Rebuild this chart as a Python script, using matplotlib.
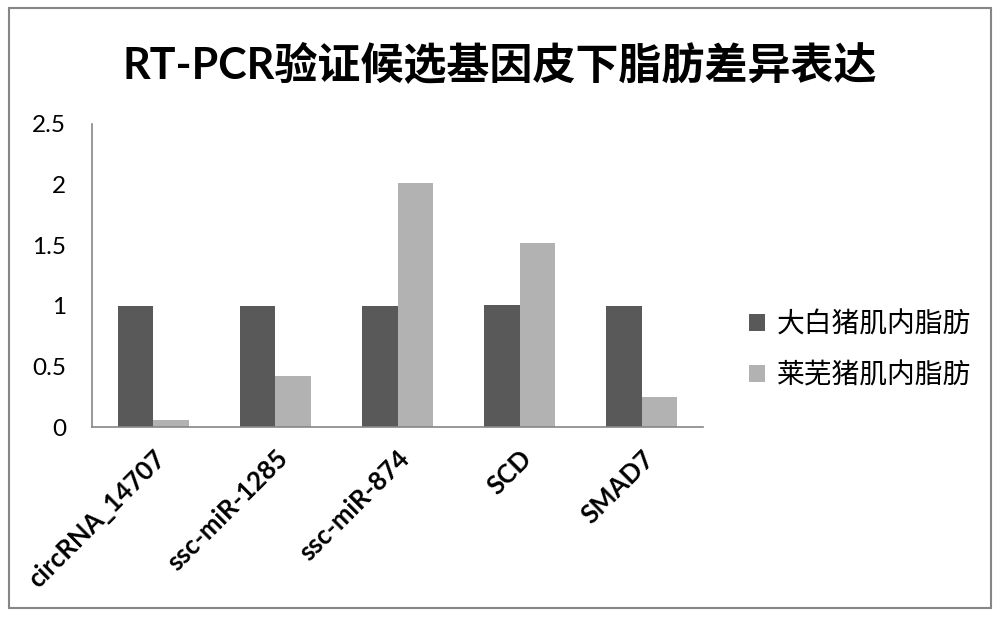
import matplotlib.pyplot as plt
import numpy as np
from matplotlib.patches import Rectangle
import matplotlib.transforms as mtransforms

plt.rcParams['font.family'] = ['Lato', 'Noto Sans CJK SC', 'DejaVu Sans']

# 数据
genes = ['circRNA_14707', 'ssc-miR-1285', 'ssc-miR-874', 'SCD', 'SMAD7']
dabai = [1.0, 1.0, 1.0, 1.01, 1.0]
laiwu = [0.06, 0.42, 2.01, 1.52, 0.25]
series_names = ['大白猪肌内脂肪', '莱芜猪肌内脂肪']

fig = plt.figure(figsize=(10, 6.19), dpi=100)
ax = fig.add_axes([0.092, 0.31, 0.611, 0.49])

x = np.arange(len(genes))
w = 0.29
ax.bar(x - w / 2, dabai, w, color='#595959', label=series_names[0])
ax.bar(x + w / 2, laiwu, w, color='#b2b2b2', label=series_names[1])

ax.set_xlim(-0.5, len(genes) - 0.5)
ax.set_ylim(0, 2.5)
ax.set_yticks([0, 0.5, 1, 1.5, 2, 2.5])
ax.set_yticklabels(['0', '0.5', '1', '1.5', '2', '2.5'], fontsize=17.5)
ax.tick_params(axis='y', length=0, pad=26)
ax.tick_params(axis='x', length=0)
ax.set_xticks(x)
ax.set_xticklabels(genes, rotation=45, ha='right', va='top',
                   rotation_mode='anchor', fontsize=18.5, fontweight='bold')
offset = mtransforms.ScaledTranslation(0, -0.14, fig.dpi_scale_trans)
for lab in ax.get_xticklabels():
    lab.set_transform(lab.get_transform() + offset)
ytoff = mtransforms.ScaledTranslation(0.1, 0, fig.dpi_scale_trans)
for lab in ax.get_yticklabels():
    lab.set_transform(lab.get_transform() + ytoff)

for s in ['top', 'right']:
    ax.spines[s].set_visible(False)
for s in ['left', 'bottom']:
    ax.spines[s].set_color('#868686')
    ax.spines[s].set_linewidth(1.2)

leg = ax.legend(loc='center left', bbox_to_anchor=(1.035, 0.255), frameon=False,
                prop={'family': ['Noto Sans CJK SC'], 'size': 20},
                handlelength=0.55, handleheight=0.55, handletextpad=0.45,
                labelspacing=0.75)

fig.text(0.5, 0.895, 'RT-PCR验证候选基因皮下脂肪差异表达', ha='center', va='center',
         fontsize=31, fontweight='bold')

fig.patches.append(Rectangle((0.009, 0.018), 0.982, 0.969, transform=fig.transFigure,
                             fill=False, edgecolor='#868686', linewidth=1.5))

plt.savefig('out.png', dpi=100)
